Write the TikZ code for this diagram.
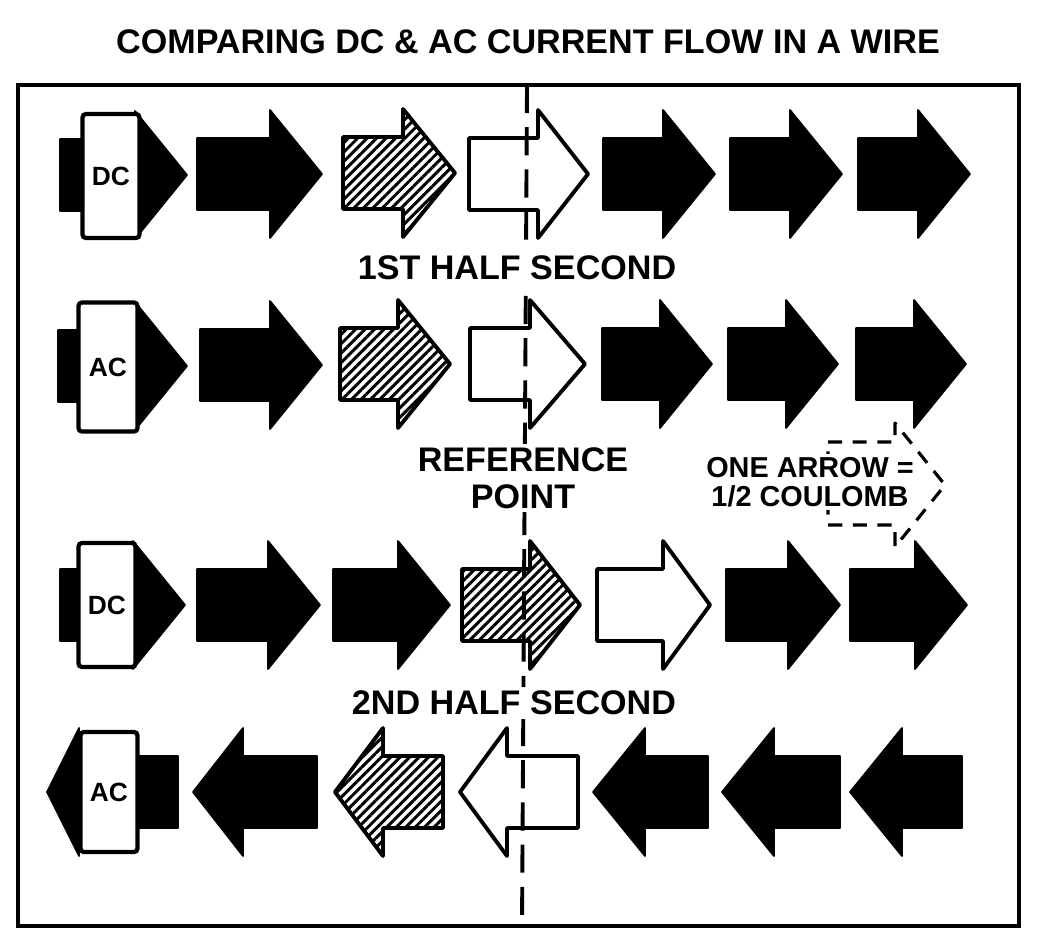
\documentclass[tikz,border=0pt]{standalone}
\usepackage{fontspec}
\setmainfont{Liberation Sans}
\usetikzlibrary{patterns.meta}

\begin{document}
\begin{tikzpicture}[x=0.01cm, y=-0.01cm,
	alen/.store in=\alen, alen=112,
	hlen/.store in=\hlen, hlen=52,
	flow/.pic={\path[pic actions] (0,-36) -- (\alen-\hlen,-36) -- (\alen-\hlen,-64) -- (\alen,0) -- (\alen-\hlen,64) -- (\alen-\hlen,36) -- (0,36) -- cycle;},
	solidarr/.style={fill=black, draw=black, line width=0.5pt, line join=round},
	hatcharr/.style={draw=black, line width=1.1pt, line join=round, pattern={Lines[angle=45,distance=1.9pt,line width=0.85pt]}, pattern color=black},
	openarr/.style={draw=black, fill=white, line width=1.1pt, line join=round},
	sourcebox/.style={draw=black, fill=white, line width=1.2pt, rounded corners=1pt, minimum width=0.57cm, minimum height=1.24cm, inner sep=0pt, font=\fontsize{7.5}{9}\selectfont\bfseries},
	caption/.style={font=\fontsize{9.7}{10.5}\selectfont\bfseries, align=center, fill=white, inner sep=1pt},
	refline/.style={line width=1.1pt, dash pattern=on 8pt off 4pt},
	legendarr/.style={line width=0.9pt, dash pattern=on 4pt off 3pt, line join=round}
]
	\useasboundingbox (0,0) rectangle (1040,940);
	% Frame
	\draw[line width=1.4pt] (18,85) rectangle (1019,926);
	% DC, 1st half second
	\pic[solidarr, alen=127] at (60,175) {flow};
	\node[sourcebox] (dcA) at (111,176) {DC};
	\pic[solidarr, alen=125, hlen=52] at (197,174) {flow};
	\pic[hatcharr, alen=112] at (343,173) {flow};
	\pic[openarr, alen=119, hlen=50] at (469,174) {flow};
	\foreach \x in {603,730,858}
		\pic[solidarr] at (\x,174) {flow};
	% AC, 1st half second
	\pic[solidarr, alen=129] at (58,366) {flow};
	\node[sourcebox, minimum width=0.59cm, minimum height=1.29cm] (acA) at (108,367) {AC};
	\pic[solidarr, alen=122] at (200,365) {flow};
	\pic[hatcharr, alen=110] at (340,364) {flow};
	\pic[openarr, alen=115, hlen=55] at (470,364) {flow};
	\foreach \x in {602,728,856}
		\pic[solidarr, alen=110] at (\x,364) {flow};
	% DC, 2nd half second
	\pic[solidarr, alen=125] at (60,605) {flow};
	\node[sourcebox] (dcB) at (107,605) {DC};
	\pic[solidarr, alen=123] at (197,605) {flow};
	\pic[solidarr, alen=117] at (333,605) {flow};
	\pic[hatcharr, alen=118, hlen=50] at (462,605) {flow};
	\pic[openarr, alen=113, hlen=47] at (597,605) {flow};
	\pic[solidarr, alen=114] at (726,605) {flow};
	\pic[solidarr, alen=117] at (850,605) {flow};
	% AC, 2nd half second (reversed)
	\pic[solidarr, xscale=-1, alen=131, hlen=32] at (178,792) {flow};
	\node[sourcebox, minimum height=1.2cm] (acB) at (109,792) {AC};
	\pic[solidarr, xscale=-1, alen=124, hlen=50] at (317,792) {flow};
	\pic[hatcharr, xscale=-1, alen=108, hlen=48] at (443,792) {flow};
	\pic[openarr, xscale=-1, alen=118, hlen=47] at (578,792) {flow};
	\foreach \x/\l in {708/115,840/118,962/112}
		\pic[solidarr, xscale=-1, alen=\l] at (\x,792) {flow};
	% One arrow = 1/2 coulomb
	\draw[legendarr] (828,442) -- (895,442) -- (895,423) -- (945,485) -- (895,547) -- (895,525) -- (828,525) -- cycle;
	% Reference line
	\coordinate (reftop) at (527,85);
	\coordinate (refbot) at (522,926);
	\draw[refline] (reftop) -- (refbot);
	% Labels
	\node[font=\fontsize{9.7}{12}\selectfont\bfseries] (title) at (528,42) {COMPARING DC \& AC CURRENT FLOW IN A WIRE};
	\node[caption] (halfA) at (517,268) {1ST HALF SECOND};
	\node[caption] (refpt) at (523,478) {REFERENCE\\POINT};
	\node[caption] (halfB) at (514,703) {2ND HALF SECOND};
	\node[font=\fontsize{8.2}{8.3}\selectfont\bfseries, align=center, fill=white, inner sep=1pt] (legend) at (810,482) {ONE ARROW =\\1/2 COULOMB};
\end{tikzpicture}
\end{document}
